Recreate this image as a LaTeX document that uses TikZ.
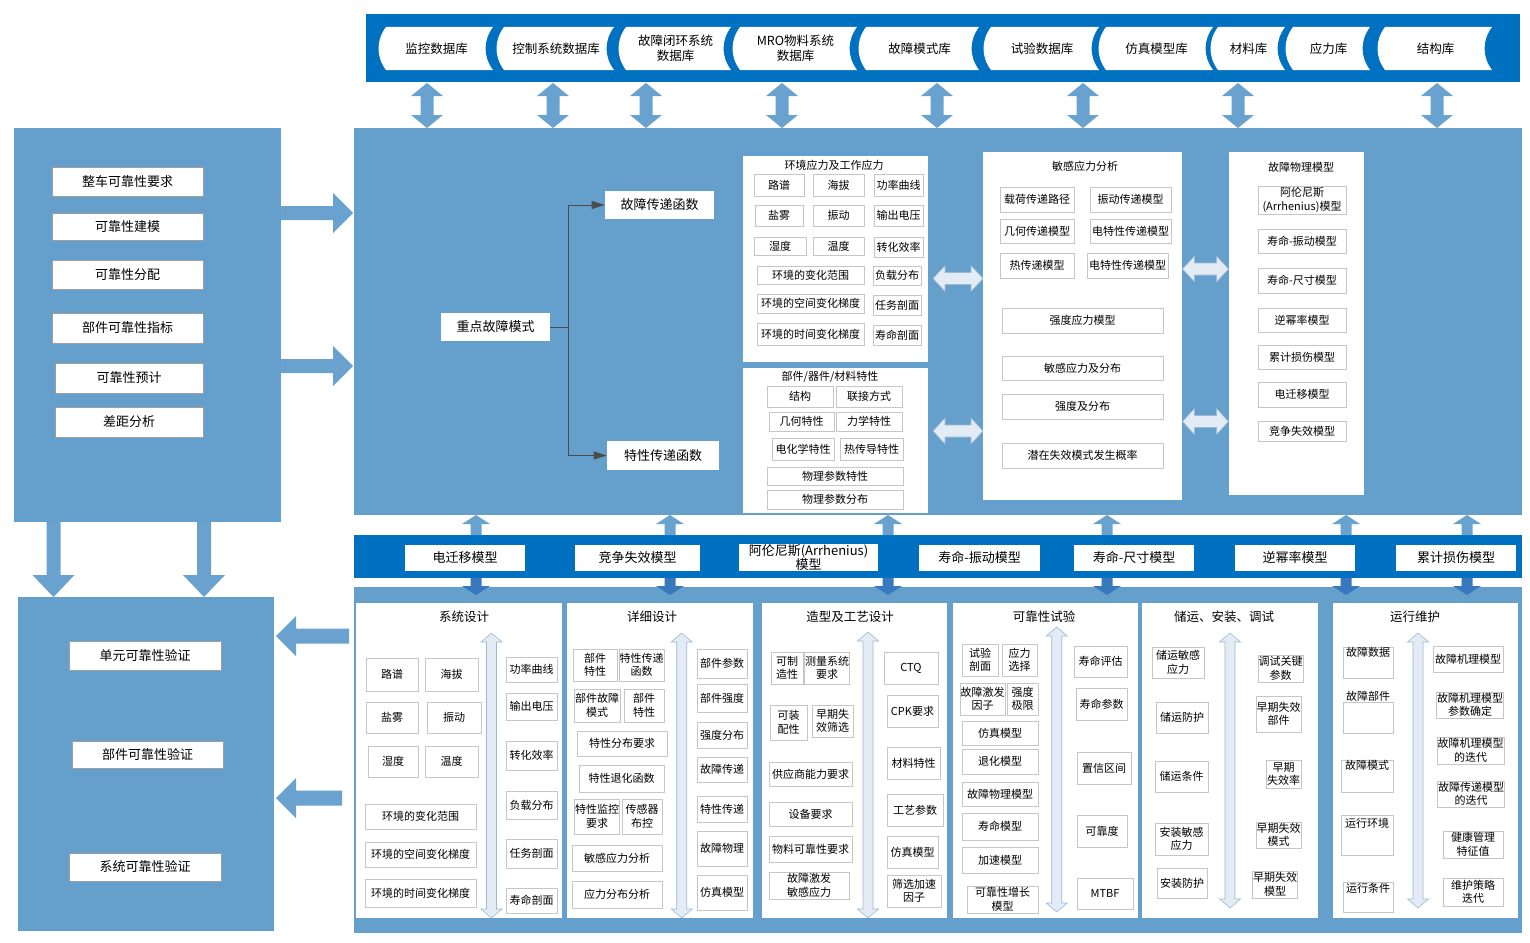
\documentclass[tikz,border=0pt]{standalone}
\usepackage{fontspec}
\setmainfont{Noto Sans CJK SC}
\usetikzlibrary{arrows.meta}
\definecolor{panelblue}{HTML}{659FCB}
\definecolor{barblue}{HTML}{0070C0}
\definecolor{arrowblue}{HTML}{6AA2CF}
\definecolor{darkarrow}{HTML}{3779BC}
\definecolor{paleblue}{HTML}{E3EBF5}
\definecolor{paleedge}{HTML}{9FB8D4}

\tikzset{
  item/.style={draw=gray!45, fill=white, line width=0.6pt, inner sep=0.5pt, align=center, font=\fontsize{11}{13.5}\selectfont},
  bigitem/.style={item, draw=gray!75, font=\fontsize{13}{14}\selectfont},
  tabtext/.style={inner sep=0pt, align=center, font=\fontsize{12.5}{15.5}\selectfont},
  sec/.style={fill=white, inner sep=0pt},
  ttl/.style={inner sep=1pt, font=\fontsize{12.5}{14}\selectfont},
  subttl/.style={inner sep=1pt, font=\fontsize{11}{13}\selectfont},
  opl/.style={inner sep=0.5pt, font=\fontsize{11}{13}\selectfont},
  conn/.style={draw=black!70, line width=0.7pt, -{Triangle[length=13pt,width=8pt]}},
  blockarrow/.style={fill=arrowblue},
  downarrow/.style={fill=darkarrow},
  pale/.style={fill=paleblue, draw=paleedge, line width=0.6pt},
}

% box from its corners: [style]{name}{x1}{y1}{x2}{y2}{text}
\newcommand{\cbox}[7][item]{\node[#1, minimum width={#5-#3}, minimum height={#6-#4}] (#2) at ({(#3+#5)/2},{(#4+#6)/2}) {#7};}
% block arrow: [style]{start}{angle}{length}{shaft half}{head half}{head length}
\newcommand{\fatarrow}[7][blockarrow]{\path[#1, shift={#2}, rotate=#3] (0,-#5) -- ({(#4)-#7},-#5) -- ({(#4)-#7},-#6) -- ({#4},0) -- ({(#4)-#7},#6) -- ({(#4)-#7},#5) -- (0,#5) -- cycle;}
% double block arrow: [style]{centre}{angle}{length}{shaft half}{head half}{head length}
\newcommand{\fatdarrow}[7][blockarrow]{\path[#1, shift={#2}, rotate=#3] ({-(#4)/2},0) -- ({-(#4)/2+#7},#6) -- ({-(#4)/2+#7},#5) -- ({(#4)/2-#7},#5) -- ({(#4)/2-#7},#6) -- ({(#4)/2},0) -- ({(#4)/2-#7},-#6) -- ({(#4)/2-#7},-#5) -- ({-(#4)/2+#7},-#5) -- ({-(#4)/2+#7},-#6) -- cycle;}

\begin{document}
\begin{tikzpicture}[x=1pt,y=-1pt]
\useasboundingbox (0,0) rectangle (1530,942);

% panels and bars
\fill[panelblue] (14,128) rectangle (281,522);
\fill[panelblue] (18,597) rectangle (274,931);
\fill[panelblue] (354,128) rectangle (1522,515);
\fill[panelblue] (354,587) rectangle (1522,933);
\fill[barblue] (366,14) rectangle (1520,82);
\fill[barblue] (354,535) rectangle (1522,578);

% database tabs
\foreach \a/\b/\t [count=\i] in {386/493/监控数据库, 504/614/控制系统数据库, 626/731/故障闭环系统\\数据库, 740/857/MRO物料系统\\数据库, 866/979/故障模式库, 991/1099/试验数据库, 1106/1213/仿真模型库, 1218/1285/材料库, 1293/1370/应力库, 1385/1492/结构库} {
  \fill[white] (\a,27) .. controls (\a-10,40) and (\a-10,57) .. (\a,70) -- (\b,70) .. controls (\b-10,57) and (\b-10,40) .. (\b,27) -- cycle;
  \node[tabtext] (db\i) at ({(\a+\b)/2-3},48.5) {\t};
}
\foreach \x in {427,553,646,782,937,1083,1238,1437}
  {\fatdarrow{(\x,105.5)}{90}{45}{6.5}{16}{13}}

% block arrows round the left panels
\fatarrow{(281,213)}{0}{72}{7}{20}{20}
\fatarrow{(281,366)}{0}{72}{7}{20}{20}
\fatarrow{(53.5,522)}{-90}{75}{7}{21}{22}
\fatarrow{(204,522)}{-90}{75}{7}{21}{22}
\fatarrow{(349,636)}{180}{73}{7.5}{20}{20}
\fatarrow{(342,798)}{180}{66}{7.5}{20}{20}

% model bar arrows
\foreach \x in {476,670,888,1107,1346,1467} {
  \fatarrow{(\x,535)}{90}{20}{5.5}{14}{9}
  \fatarrow[downarrow]{(\x,578)}{-90}{17}{5.5}{14}{9}
}

% left panels
\foreach \n/\a/\b/\c/\d/\t in {l1/52/167/203/196/整车可靠性要求, l2/52/213/203/240/可靠性建模, l3/52/260/203/289/可靠性分配, l4/52/313/203/343/部件可靠性指标, l5/55/363/203/393/可靠性预计, l6/55/407/203/437/差距分析, v1/69/641/221/670/单元可靠性验证, v2/72/741/223/768/部件可靠性验证, v3/69/853/221/881/系统可靠性验证}
  {\cbox[bigitem]{\n}{\a}{\b}{\c}{\d}{\t}}

% failure mode and transfer functions
\cbox[bigitem, draw=none]{key}{441}{313}{550}{341}{重点故障模式}
\cbox[bigitem, draw=none]{ftf}{605}{191}{714}{219}{故障传递函数}
\cbox[bigitem, draw=none]{ctf}{607}{441}{719}{470}{特性传递函数}
\draw[conn] (key.east) -- ++(18,0) |- (ftf.west);
\draw[conn] (key.east) -- ++(18,0) |- (ctf.west);

% analysis boxes
\cbox[sec]{envbox}{743}{156}{928}{362}{}
\cbox[sec]{matbox}{743}{368}{928}{513}{}
\cbox[sec]{sensbox}{983}{152}{1182}{500}{}
\cbox[sec]{pofbox}{1229}{152}{1364}{495}{}
\node[subttl] (envttl) at (834,165) {环境应力及工作应力};
\node[subttl] (matttl) at (830,377) {部件/器件/材料特性};
\node[subttl] (sensttl) at (1085,166) {敏感应力分析};
\node[subttl] (pofttl) at (1301,167) {故障物理模型};

\foreach \n/\a/\b/\c/\d/\t in {e1/754/174/804/196/路谱, e2/813/174/864/196/海拔, e3/874/174/923/196/功率曲线, e4/755/205/803/226/盐雾, e5/813/205/864/226/振动, e6/874/205/923/226/输出电压, e7/754/237/806/255/湿度, e8/813/237/864/255/温度, e9/874/237/923/257/转化效率, e10/757/266/864/284/环境的变化范围, e11/873/266/921/285/负载分布, e12/757/294/864/313/环境的空间变化梯度, e13/873/295/921/315/任务剖面, e14/757/323/864/345/环境的时间变化梯度, e15/873/325/921/345/寿命剖面}
  {\cbox{\n}{\a}{\b}{\c}{\d}{\t}}

\foreach \n/\a/\b/\c/\d/\t in {m1/767/386/833/407/结构, m2/836/386/902/407/联接方式, m3/769/412/834/431/几何特性, m4/836/412/902/431/力学特性, m5/772/438/834/460/电化学特性, m6/840/438/903/460/热传导特性, m7/767/467/903/485/物理参数特性, m8/767/490/903/509/物理参数分布}
  {\cbox{\n}{\a}{\b}{\c}{\d}{\t}}

\foreach \n/\a/\b/\c/\d/\t in {s1/1000/187/1074/212/载荷传递路径, s2/1090/187/1171/212/振动传递模型, s3/1000/219/1074/243/几何传递模型, s4/1090/219/1171/243/电特性传递模型, s5/1000/253/1074/278/热传递模型, s6/1087/253/1168/278/电特性传递模型, s7/1002/308/1163/333/强度应力模型, s8/1002/356/1163/380/敏感应力及分布, s9/1002/394/1163/419/强度及分布, s10/1002/443/1163/468/潜在失效模式发生概率}
  {\cbox{\n}{\a}{\b}{\c}{\d}{\t}}

\foreach \n/\b/\d/\t in {p1/186/214/{阿伦尼斯\\(Arrhenius)模型}, p2/229/253/寿命-振动模型, p3/268/293/寿命-尺寸模型, p4/308/332/逆幂率模型, p5/345/369/累计损伤模型, p6/382/407/电迁移模型, p7/421/441/竞争失效模型}
  {\cbox{\n}{1258}{\b}{1346}{\d}{\t}}

\fatdarrow[pale]{(958,278.5)}{0}{50}{6}{13}{12}
\fatdarrow[pale]{(958,431)}{0}{50}{6}{13}{12}
\fatdarrow[pale]{(1205.5,269)}{0}{46}{6}{13}{12}
\fatdarrow[pale]{(1205.5,421.5)}{0}{46}{6}{13}{12}

% model bar
\foreach \n/\a/\c/\t in {mb1/405/525/电迁移模型, mb2/575/700/竞争失效模型, mb3/739/878/{阿伦尼斯(Arrhenius)\\模型}, mb4/919/1040/寿命-振动模型, mb5/1074/1194/寿命-尺寸模型, mb6/1235/1355/逆幂率模型, mb7/1396/1516/累计损伤模型}
  {\cbox[bigitem, draw=none, font=\fontsize{13}{13}\selectfont]{\n}{\a}{544.5}{\c}{570.5}{\t}}

% life cycle stages
\foreach \n/\a/\c/\x/\t/\ax/\at/\ab in {sys/356/562/464/系统设计/491.5/633/918, det/567/753/652/详细设计/681.7/633/918, mfg/762/947/850/造型及工艺设计/868/632/918, tst/953/1138/1044/可靠性试验/1056.7/627/912, sto/1142/1318/1224/储运、安装、调试/1230/633/908, ops/1333/1518/1415/运行维护/1418/633/908} {
  \cbox[sec]{\n}{\a}{603}{\c}{918}{}
  \node[ttl] (\n ttl) at (\x,617) {\t};
  \fatdarrow[pale]{(\ax,{(\at+\ab)/2})}{90}{\ab-\at}{5}{10.5}{9}
}

\foreach \n/\a/\b/\c/\d/\t in {a1/366/658/418/691/路谱, a2/425/658/478/691/海拔, a3/366/702/418/733/盐雾, a4/427/702/481/733/振动, a5/368/746/418/777/湿度, a6/425/746/478/777/温度, a7/365/804/476/829/环境的变化范围, a8/365/842/476/867/环境的空间变化梯度, a9/365/879/476/907/环境的时间变化梯度, a10/506/657/557/682/功率曲线, a11/506/693/557/720/输出电压, a12/506/741/557/770/转化效率, a13/506/791/557/819/负载分布, a14/506/839/557/868/任务剖面, a15/506/888/557/913/寿命剖面}
  {\cbox{\n}{\a}{\b}{\c}{\d}{\t}}

\foreach \n/\a/\b/\c/\d/\t in {b1/573/649/617/681/部件\\特性, b2/619/649/664/681/特性传递\\函数, b3/574/689/620/722/部件故障\\模式, b4/624/689/664/722/部件\\特性, b5/577/731/667/756/特性分布要求, b6/579/765/664/792/特性退化函数, b7/577/799/617/834/特性监控\\要求, b8/622/799/662/834/传感器\\布控, b9/572/845/662/871/敏感应力分析, b10/572/881/662/908/应力分布分析, b11/697/649/747/678/部件参数, b12/697/684/747/712/部件强度, b13/697/722/747/748/强度分布, b14/697/757/747/782/故障传递, b15/697/796/747/822/特性传递, b16/697/831/747/866/故障物理, b17/697/875/747/910/仿真模型}
  {\cbox{\n}{\a}{\b}{\c}{\d}{\t}}

\foreach \n/\a/\b/\c/\d/\t in {c1/771/652/803/684/可制\\造性, c2/807/652/847/684/测量系统\\要求, c3/770/705/807/740/可装\\配性, c4/812/705/853/737/早期失\\效筛选, c5/769/762/852/786/供应商能力要求, c6/769/802/852/826/设备要求, c7/769/836/852/862/物料可靠性要求, c8/769/872/849/899/故障激发\\敏感应力, c9/884/652/938/684/CTQ, c10/887/695/938/727/CPK要求, c11/887/747/940/779/材料特性, c12/887/794/943/826/工艺参数, c13/887/836/938/868/仿真模型, c14/887/875/941/907/筛选加速\\因子}
  {\cbox{\n}{\a}{\b}{\c}{\d}{\t}}

\foreach \n/\a/\b/\c/\d/\t in {d1/962/644/998/676/试验\\剖面, d2/1002/644/1037/676/应力\\选择, d3/962/683/1003/715/故障激发\\因子, d4/1007/683/1038/715/强度\\极限, d5/962/721/1038/745/仿真模型, d6/962/749/1038/774/退化模型, d7/962/782/1038/806/故障物理模型, d8/962/813/1038/840/寿命模型, d9/962/847/1038/873/加速模型, d10/967/886/1038/913/可靠性增长\\模型, d11/1074/646/1127/677/寿命评估, d12/1076/688/1127/720/寿命参数, d13/1077/752/1131/784/置信区间, d14/1077/815/1127/847/可靠度, d15/1077/878/1133/909/MTBF}
  {\cbox{\n}{\a}{\b}{\c}{\d}{\t}}

\foreach \n/\a/\b/\c/\d/\t in {f1/1152/647/1204/678/储运敏感\\应力, f2/1156/702/1208/733/储运防护, f3/1155/761/1208/792/储运条件, f4/1155/823/1208/855/安装敏感\\应力, f5/1157/868/1207/898/安装防护, f6/1258/655/1303/682/调试关键\\参数, f7/1256/696/1301/732/早期失效\\部件, f8/1266/760/1301/788/早期\\失效率, f9/1256/822/1301/848/早期失效\\模式, f10/1253/871/1297/898/早期失效\\模型}
  {\cbox{\n}{\a}{\b}{\c}{\d}{\t}}

% operation: labels sit at the top of their boxes
\foreach \n/\a/\b/\c/\d/\t/\s in {g1/1343/647/1393/678/故障数据/0, g3/1341/760/1393/792/故障模式/0, g4/1341/815/1393/855/运行环境/-3, g5/1343/882/1393/912/运行条件/-1}
  {\cbox[item, label={[opl, anchor=north, yshift=\s pt]north:\t}]{\n}{\a}{\b}{\c}{\d}{}}
\cbox[item, label={[opl, anchor=south, yshift=0pt]north:故障部件}]{g2}{1343}{702}{1393}{733}{}

\foreach \n/\a/\b/\c/\d/\t in {g6/1433/646/1503/672/故障机理模型, g7/1437/692/1503/718/故障机理模型\\参数确定, g8/1438/737/1503/764/故障机理模型\\的迭代, g9/1439/781/1503/807/故障传递模型\\的迭代, g10/1443/831/1503/858/健康管理\\特征值, g11/1443/878/1503/906/维护策略\\迭代}
  {\cbox{\n}{\a}{\b}{\c}{\d}{\t}}

\end{tikzpicture}
\end{document}
